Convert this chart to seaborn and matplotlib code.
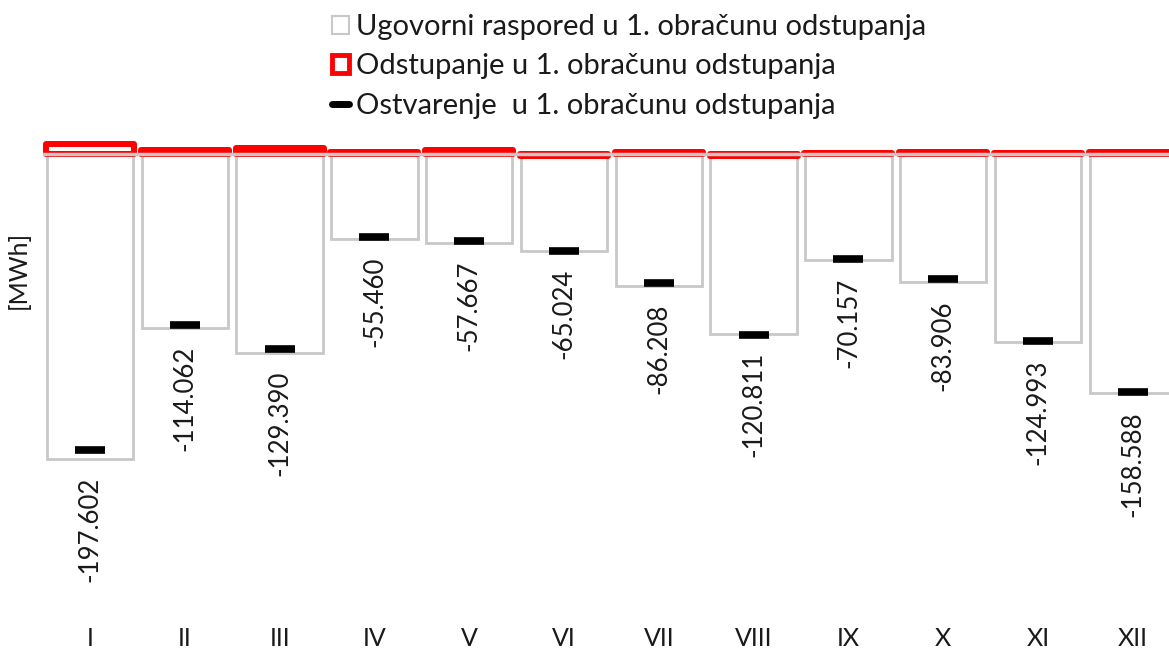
import numpy as np
import pandas as pd
import seaborn as sns
import matplotlib.pyplot as plt
from matplotlib.patches import Patch
from matplotlib.lines import Line2D

# months
months = ['I', 'II', 'III', 'IV', 'V', 'VI', 'VII', 'VIII', 'IX', 'X', 'XI', 'XII']
# contract schedule (bars)
ugovorni = [-197.6, -112.7, -128.9, -55.1, -57.7, -62.8, -85.5, -116.6, -68.7, -82.9, -121.8, -154.8]
# deviation (red bars)
odstupanje = [6.5, 2.4, 4.1, 1.5, 2.4, -1.5, 1.5, -1.5, 0.8, 1.5, 0.6, 1.5]
# realization (black markers)
ostvarenje = [-191.8, -110.8, -126.3, -53.8, -56.4, -62.8, -83.6, -117.3, -68.0, -81.0, -121.2, -154.2]
# printed data labels
oznake = ['-197.602', '-114.062', '-129.390', '-55.460', '-57.667', '-65.024',
          '-86.208', '-120.811', '-70.157', '-83.906', '-124.993', '-158.588']

df = pd.DataFrame({'mjesec': months, 'ugovorni': ugovorni,
                   'odstupanje': odstupanje, 'ostvarenje': ostvarenje})

sns.set_theme(style='white')
plt.rcParams['font.family'] = ['Lato', 'DejaVu Sans']
txt = '#1a1a1a'

W, H = 1169, 650
fig = plt.figure(figsize=(W / 100, H / 100), dpi=100)
# axes in pixel terms
left, right = 42.6, 42.6 + 1137.6
top, bottom = 125, 615
ax = fig.add_axes([left / W, 1 - bottom / H, (right - left) / W, (bottom - top) / H])

gray = '#c8c8c8'
sns.barplot(data=df, x='mjesec', y='ugovorni', ax=ax, width=0.91,
            color='white', edgecolor=gray, linewidth=2, zorder=1)
sns.barplot(data=df, x='mjesec', y='odstupanje', ax=ax, width=0.93,
            fill=False, edgecolor='#ff0000', linewidth=4.3, zorder=2)
for p in ax.patches[len(months):]:
    p.set_joinstyle('round')
ax.axhline(0, color=gray, lw=2.5, zorder=3)
ax.plot(range(len(months)), df['ostvarenje'], linestyle='none', marker='_',
        markersize=22, markeredgewidth=5.5, color='black', zorder=4)

# data labels under the contract bars
for i, (v, t) in enumerate(zip(ugovorni, oznake)):
    ax.annotate(t, xy=(i, v), xytext=(0, -13), textcoords='offset points',
                rotation=90, ha='center', va='top', fontsize=18.5, color=txt)

scale = 1.5435
ax.set_ylim(-(bottom - 154) / scale, (154 - top) / scale)
ax.set_xlim(-0.5, 11.5)
for s in ax.spines.values():
    s.set_visible(False)
ax.set_yticks([])
ax.set_xlabel('')
ax.set_ylabel('')
ax.tick_params(axis='x', length=0, pad=9, labelsize=18, labelcolor=txt)

fig.text(18 / W, 1 - 270 / H, '[MWh]', rotation=90, ha='center', va='center',
         fontsize=18, color=txt)

handles = [Patch(facecolor='white', edgecolor=gray, linewidth=1.5),
           Patch(facecolor='white', edgecolor='#ff0000', linewidth=3.5),
           Line2D([], [], color='black', lw=5)]
labels = ['Ugovorni raspored u 1. obračunu odstupanja',
          'Odstupanje u 1. obračunu odstupanja',
          'Ostvarenje  u 1. obračunu odstupanja']
fig.legend(handles, labels, loc='upper left', bbox_to_anchor=(314 / W, 1.005),
           frameon=False, fontsize=21, handlelength=0.6, handleheight=0.6,
           handletextpad=0.25, labelspacing=0.45, borderpad=0.1,
           labelcolor=txt)

fig.savefig('out.png', dpi=100)
